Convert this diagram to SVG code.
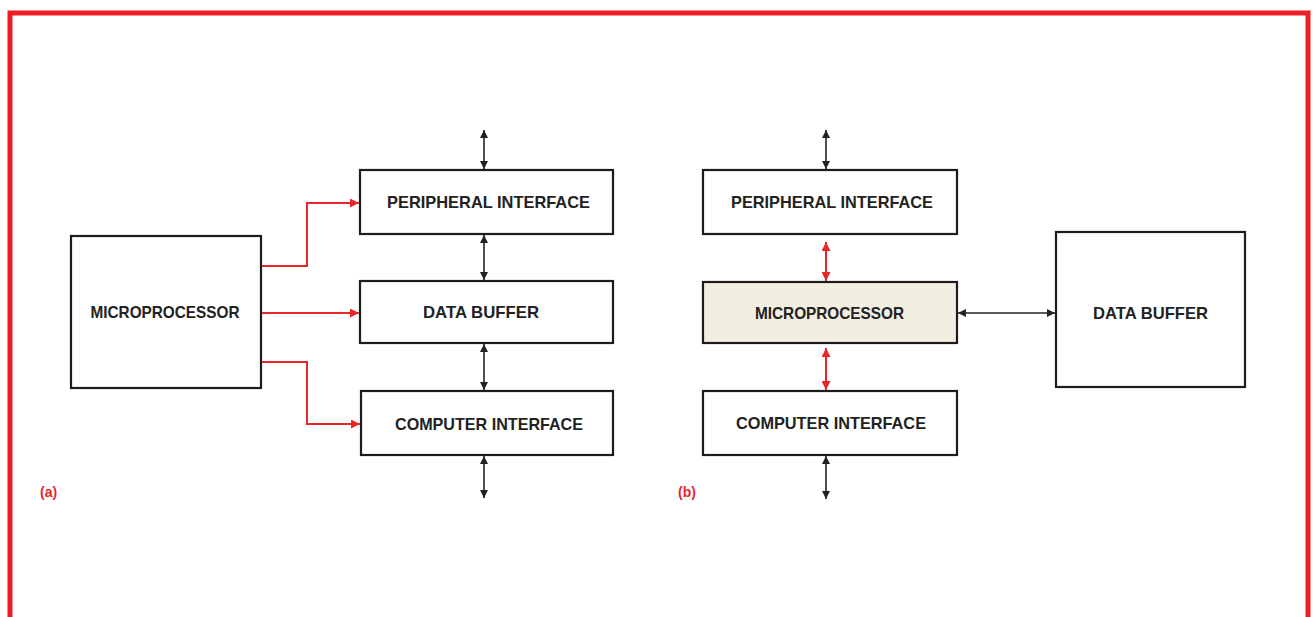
<svg xmlns="http://www.w3.org/2000/svg" width="1316" height="617" viewBox="0 0 1316 617">
<style>
.box{fill:#fff;stroke:#1c1c1c;stroke-width:2.2}
.hl{fill:#f3eee2}
.lbl{font-family:"Liberation Sans",Arial,sans-serif;font-size:17px;font-weight:bold;fill:#222;text-anchor:middle}
.blk{fill:none;stroke:#222;stroke-width:1.6}
.red{fill:none;stroke:#e8262a;stroke-width:2}
.cap{font-family:"Liberation Sans",Arial,sans-serif;font-size:14px;font-weight:bold;fill:#e8262a}
</style>
<defs>
<marker id="ak" viewBox="0 0 10 10" refX="10" refY="5" markerWidth="11" markerHeight="8" markerUnits="userSpaceOnUse" orient="auto-start-reverse"><path d="M0,0 L10,5 L0,10 z" fill="#222"/></marker>
<marker id="ar" viewBox="0 0 10 10" refX="10" refY="5" markerWidth="12" markerHeight="9" markerUnits="userSpaceOnUse" orient="auto-start-reverse"><path d="M0,0 L10,5 L0,10 z" fill="#e8262a"/></marker>
</defs>
<rect width="1316" height="617" fill="#fff"/>
<path d="M10,617 V13 H1308 V617" fill="none" stroke="#ee1c24" stroke-width="5"/>

<g id="a-microprocessor"><rect class="box" x="71" y="236" width="190" height="152"/><text class="lbl" x="165" y="318" textLength="149" lengthAdjust="spacingAndGlyphs">MICROPROCESSOR</text></g>
<g id="a-peripheral"><rect class="box" x="360" y="170" width="253" height="64"/><text class="lbl" x="488.5" y="208" textLength="203" lengthAdjust="spacingAndGlyphs">PERIPHERAL INTERFACE</text></g>
<g id="a-databuffer"><rect class="box" x="360" y="281" width="253" height="62"/><text class="lbl" x="481" y="318" textLength="116" lengthAdjust="spacingAndGlyphs">DATA BUFFER</text></g>
<g id="a-computer"><rect class="box" x="361" y="391" width="252" height="64"/><text class="lbl" x="489" y="430" textLength="188" lengthAdjust="spacingAndGlyphs">COMPUTER INTERFACE</text></g>

<g id="b-peripheral"><rect class="box" x="703" y="170" width="254" height="64"/><text class="lbl" x="832" y="208" textLength="202" lengthAdjust="spacingAndGlyphs">PERIPHERAL INTERFACE</text></g>
<g id="b-microprocessor"><rect class="box hl" x="703" y="282" width="254" height="61"/><text class="lbl" x="829.5" y="319" textLength="149" lengthAdjust="spacingAndGlyphs">MICROPROCESSOR</text></g>
<g id="b-computer"><rect class="box" x="703" y="391" width="254" height="64"/><text class="lbl" x="831" y="429" textLength="190" lengthAdjust="spacingAndGlyphs">COMPUTER INTERFACE</text></g>
<g id="b-databuffer"><rect class="box" x="1056" y="232" width="189" height="155"/><text class="lbl" x="1150.5" y="319" textLength="115" lengthAdjust="spacingAndGlyphs">DATA BUFFER</text></g>

<g id="connectors">
<path class="red" d="M262,266 H307 V203 H359" marker-end="url(#ar)"/>
<path class="red" d="M262,313 H359" marker-end="url(#ar)"/>
<path class="red" d="M262,362 H307 V424 H360" marker-end="url(#ar)"/>
<path class="blk" d="M484,130 V169" marker-start="url(#ak)" marker-end="url(#ak)"/>
<path class="blk" d="M484,235 V280" marker-start="url(#ak)" marker-end="url(#ak)"/>
<path class="blk" d="M484,344 V390" marker-start="url(#ak)" marker-end="url(#ak)"/>
<path class="blk" d="M484,456 V498" marker-start="url(#ak)" marker-end="url(#ak)"/>
<path class="blk" d="M826,130 V169" marker-start="url(#ak)" marker-end="url(#ak)"/>
<path class="red" d="M826,242 V281" marker-start="url(#ar)" marker-end="url(#ar)"/>
<path class="red" d="M826,348 V390" marker-start="url(#ar)" marker-end="url(#ar)"/>
<path class="blk" d="M826,456 V499" marker-start="url(#ak)" marker-end="url(#ak)"/>
<path class="blk" d="M958,313 H1055" marker-start="url(#ak)" marker-end="url(#ak)"/>
</g>
<text class="cap" x="40" y="497">(a)</text>
<text class="cap" x="678" y="497">(b)</text>
</svg>
